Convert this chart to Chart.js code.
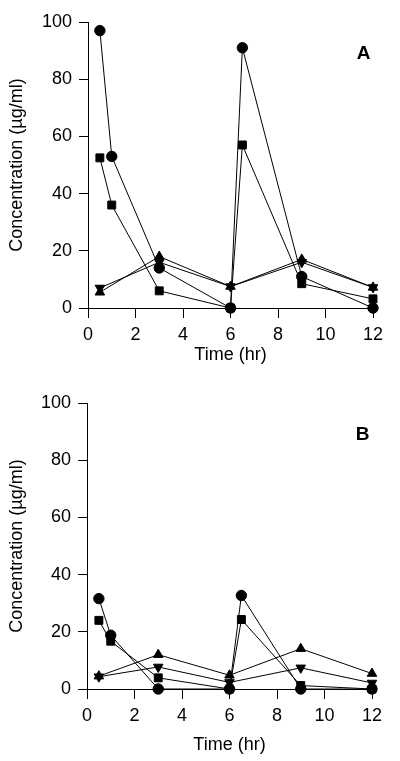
<!DOCTYPE html>
<html>
<head>
<meta charset="utf-8">
<script src="https://cdn.jsdelivr.net/npm/chart.js@4"></script>
<style>
  body { margin: 0; background: #fff; }
  #wrap { position: relative; width: 400px; height: 761px; }
  canvas { position: absolute; left: 0; }
</style>
</head>
<body>
<div id="wrap">
  <canvas id="chartA" width="400" height="380" style="top:0"></canvas>
  <canvas id="chartB" width="400" height="381" style="top:380px"></canvas>
</div>
<script>
// tick labels
const xTicks = [0, 2, 4, 6, 8, 10, 12];
const yTicks = [0, 20, 40, 60, 80, 100];

// sampling times (hr)
const timesFull = [0.5, 1, 3, 6, 6.5, 9, 12];
const timesShort = [0.5, 3, 6, 9, 12];

// panel A
const aCircle = [97, 53, 14, 0, 91, 11, 0];
const aSquare = [52.5, 36, 6, 0, 57, 8.5, 3.2];
const aTriUp = [5.5, 18, 7.5, 17, 7.2];
const aTriDown = [7, 16, 7.5, 16, 7.2];

// panel B
const bCircle = [31.6, 18.8, 0, 0, 32.7, 0, 0];
const bSquare = [24, 16.7, 3.9, 0, 24.3, 1.2, 0];
const bTriUp = [4.5, 12, 4.8, 14.1, 5.4];
const bTriDown = [4.3, 7.7, 2.3, 7.4, 2.1];

const FONT = 'Liberation Sans, Arial, sans-serif';

function pts(xs, ys) {
    return xs.map((x, i) => ({ x: x, y: ys[i] }));
}

function series(xs, ys, style, radius, rotation) {
    return {
        data: pts(xs, ys),
        borderColor: '#000',
        borderWidth: 1,
        backgroundColor: '#000',
        pointBackgroundColor: '#000',
        pointBorderColor: '#000',
        pointBorderWidth: 1,
        pointStyle: style,
        pointRadius: radius,
        pointRotation: rotation || 0,
        tension: 0,
        clip: false
    };
}

// draws the panel letter (A / B) near the top right of the plot
const panelLabel = {
    id: 'panelLabel',
    afterDraw(chart, args, opts) {
        const ctx = chart.ctx;
        ctx.save();
        ctx.font = 'bold 19px ' + FONT;
        ctx.fillStyle = '#000';
        ctx.textAlign = 'center';
        ctx.textBaseline = 'middle';
        ctx.fillText(opts.text,
            chart.scales.x.getPixelForValue(opts.x),
            chart.scales.y.getPixelForValue(opts.y));
        ctx.restore();
    }
};

function makeChart(id, c, t, u, d, label, titleBottomPad, top, xHeight, left) {
    const ctx = document.getElementById(id).getContext('2d');
    return new Chart(ctx, {
        type: 'line',
        data: {
            datasets: [
                series(timesFull, c, 'circle', 5.2),
                series(timesFull, t, 'rect', 5.6),
                series(timesShort, u, 'triangle', 5.5),
                series(timesShort, d, 'triangle', 5.5, 180)
            ]
        },
        options: {
            responsive: false,
            animation: false,
            layout: { padding: { top: top, right: 400 - left - 285, bottom: 0, left: 0 } },
            plugins: {
                legend: { display: false },
                tooltip: { enabled: false },
                panelLabel: { text: label, x: 11.6, y: 89 }
            },
            scales: {
                x: {
                    type: 'linear',
                    min: 0,
                    max: 12,
                    afterFit: s => { s.height = xHeight; },
                    afterBuildTicks: s => { s.ticks = xTicks.map(v => ({ value: v })); },
                    grid: { drawOnChartArea: false, drawTicks: true, tickLength: 10, color: '#000' },
                    border: { display: true, color: '#000', width: 1 },
                    ticks: { color: '#000', padding: 6, font: { family: FONT, size: 18 } },
                    title: {
                        display: true,
                        text: 'Time (hr)',
                        color: '#000',
                        font: { family: FONT, size: 18 },
                        padding: { top: 0, bottom: titleBottomPad }
                    }
                },
                y: {
                    min: 0,
                    max: 100,
                    afterFit: s => { s.width = left; },
                    afterBuildTicks: s => { s.ticks = yTicks.map(v => ({ value: v })); },
                    grid: { drawOnChartArea: false, drawTicks: true, tickLength: 9, color: '#000' },
                    border: { display: true, color: '#000', width: 1 },
                    ticks: { color: '#000', padding: 7, font: { family: FONT, size: 18 } },
                    title: {
                        display: true,
                        text: 'Concentration (µg/ml)',
                        color: '#000',
                        font: { family: FONT, size: 18 },
                        padding: { top: 6, bottom: 0 }
                    }
                }
            }
        },
        plugins: [panelLabel]
    });
}

makeChart('chartA', aCircle, aSquare, aTriUp, aTriDown, 'A', 14, 22, 72, 88);
makeChart('chartB', bCircle, bSquare, bTriUp, bTriDown, 'B', 5, 23, 72, 87);
</script>
</body>
</html>
